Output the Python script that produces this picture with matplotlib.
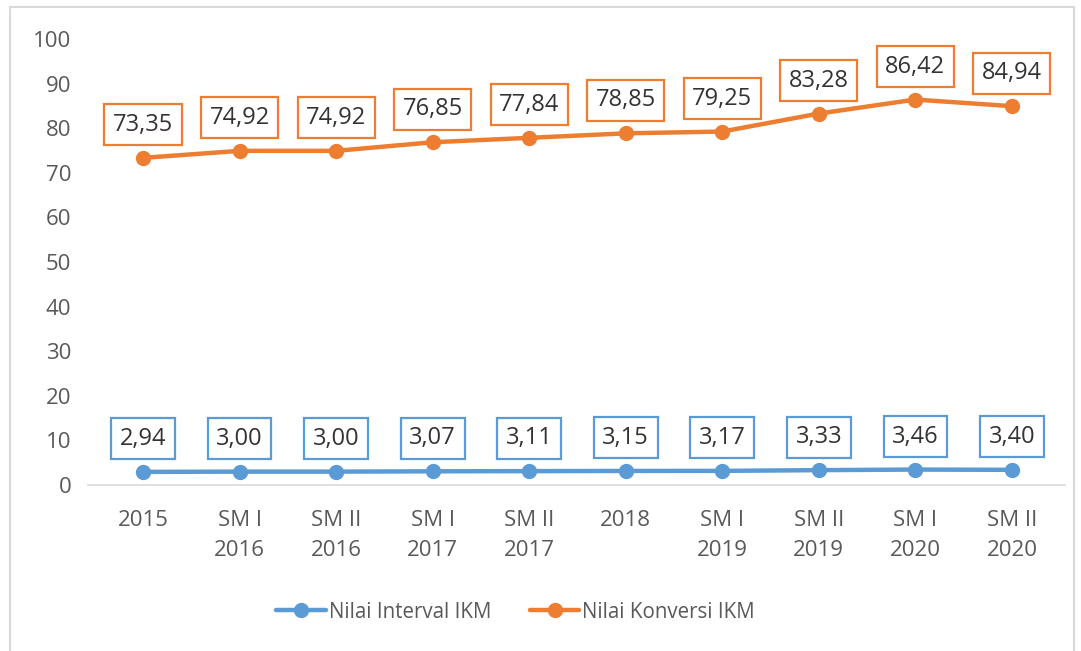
import matplotlib.pyplot as plt
from matplotlib.patches import Rectangle

categories = ['2015', 'SM I\n2016', 'SM II\n2016', 'SM I\n2017', 'SM II\n2017',
              '2018', 'SM I\n2019', 'SM II\n2019', 'SM I\n2020', 'SM II\n2020']
interval_ikm = [2.94, 3.00, 3.00, 3.07, 3.11, 3.15, 3.17, 3.33, 3.46, 3.40]
konversi_ikm = [73.35, 74.92, 74.92, 76.85, 77.84, 78.85, 79.25, 83.28, 86.42, 84.94]

blue = '#5B9BD5'
orange = '#ED7D31'
plt.rcParams['font.family'] = ['Open Sans', 'DejaVu Sans']

fig = plt.figure(figsize=(10.81, 6.51), dpi=100)
ax = fig.add_axes([88 / 1081, 1 - 485 / 651, (1065 - 88) / 1081, (485 - 39) / 651])

x = list(range(len(categories)))
ax.plot(x, interval_ikm, color=blue, lw=3.2, marker='o', ms=10, label='Nilai Interval IKM',
        solid_capstyle='round')
ax.plot(x, konversi_ikm, color=orange, lw=3.2, marker='o', ms=10, label='Nilai Konversi IKM',
        solid_capstyle='round')

def label(vals, color):
    for i, v in enumerate(vals):
        ax.annotate(f'{v:.2f}'.replace('.', ','), (i, v), xytext=(0, 33),
                    textcoords='offset pixels', ha='center', va='center',
                    fontsize=17, color='#333333',
                    bbox=dict(boxstyle='square,pad=0.36', fc='white', ec=color, lw=1.6))

label(interval_ikm, blue)
label(konversi_ikm, orange)

ax.set_xlim(-0.57, 9.55)
ax.set_ylim(0, 100)
ax.set_yticks(range(0, 101, 10))
ax.set_xticks(x)
ax.set_xticklabels(categories, linespacing=1.55, va='top')
for s in ['top', 'right', 'left']:
    ax.spines[s].set_visible(False)
ax.spines['bottom'].set_color('#d9d9d9')
ax.spines['bottom'].set_linewidth(1.2)
ax.tick_params(axis='both', length=0, labelsize=16, colors='#595959')
ax.tick_params(axis='y', pad=12)
ax.tick_params(axis='x', pad=18)

leg = fig.legend(loc='center', bbox_to_anchor=(0.477, 1 - 612 / 651),
                 ncol=2, frameon=False, fontsize=14.8,
                 handlelength=2.4, columnspacing=1.9, handletextpad=0.15)
for t in leg.get_texts():
    t.set_color('#595959')

# chart frame
fig.patches.append(Rectangle((10 / 1081, -0.02), 1064 / 1081, 1 - 7 / 651 + 0.02,
                             transform=fig.transFigure, fill=False, ec='#d9d9d9', lw=1.5))

fig.savefig('out.png', dpi=100)
